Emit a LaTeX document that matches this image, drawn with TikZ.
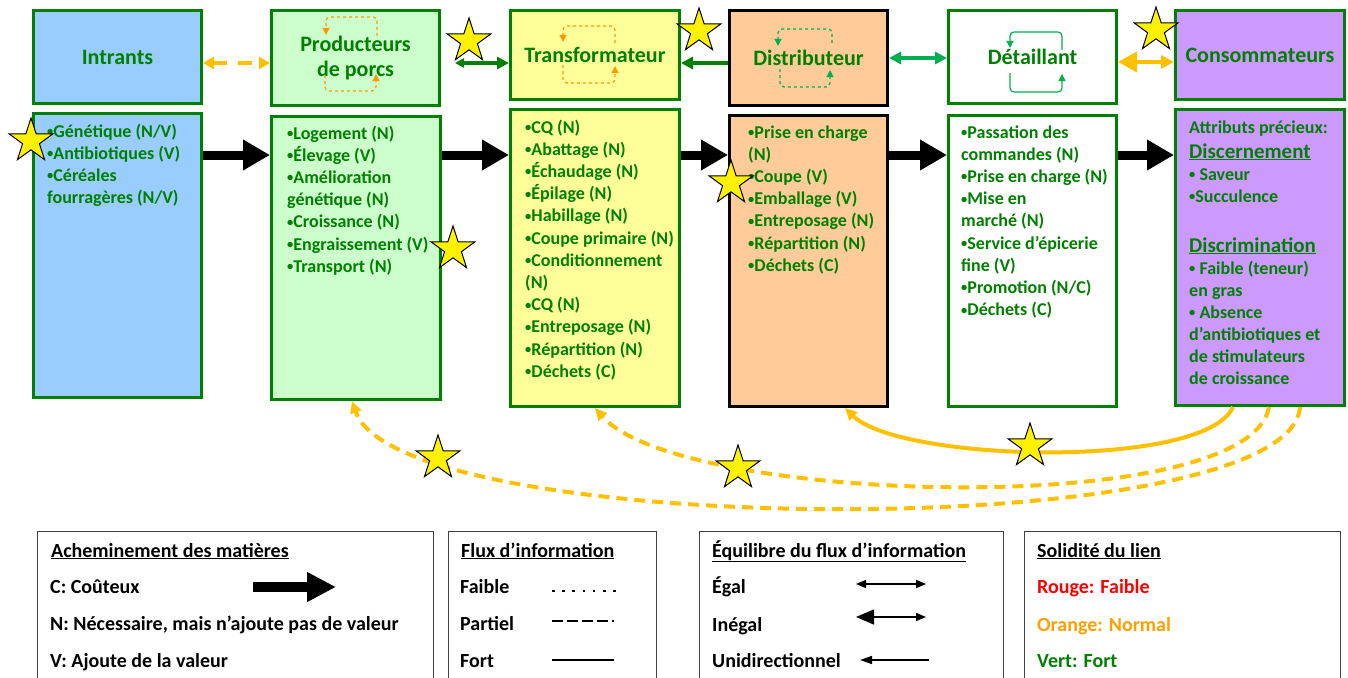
\documentclass[tikz,border=0pt]{standalone}
\usepackage{fontspec}
\setmainfont{Carlito}
\usetikzlibrary{arrows.meta,shapes.geometric,calc}
\definecolor{tg}{HTML}{008000}
\definecolor{lg}{HTML}{00B050}
\definecolor{og}{HTML}{FFC000}
\definecolor{oc}{HTML}{FF9900}
\definecolor{cblue}{HTML}{99CCFF}
\definecolor{cgreen}{HTML}{CCFFCC}
\definecolor{cyellow}{HTML}{FFFF99}
\definecolor{corange}{HTML}{FFCC99}
\definecolor{cpurple}{HTML}{CC99FF}
\definecolor{legred}{HTML}{FF0000}
\definecolor{legorange}{HTML}{FFA000}
\newcommand\bu{\raisebox{1.6pt}{\fontsize{12.5}{12.5}\selectfont•}}
\newcommand\boxlines[4]{%
  \foreach \tx [count=\k] in {#4}
    \node[body] (#1\k) at (#2, {#3+22.2*(\k-1)}) {\tx};}
\begin{document}
\begin{tikzpicture}[x=1pt,y=-1pt,
  box/.style={draw=tg, line width=3pt, inner sep=0pt, anchor=north west, text=tg,
    font=\fontsize{22}{25}\selectfont\bfseries, align=center},
  body/.style={inner sep=0pt, anchor=base west, text=tg, font=\fontsize{18}{22}\selectfont\bfseries},
  bodybig/.style={inner sep=0pt, anchor=base west, text=tg, font=\fontsize{21}{24}\selectfont\bfseries},
  legtxt/.style={inner sep=0pt, anchor=base west, text=black, font=\fontsize{20}{24}\selectfont\bfseries},
  legbox/.style={draw=black!75, line width=1.3pt, anchor=north west, inner sep=0pt},
  starn/.style={star, star points=5, star point ratio=2.6, minimum size=46pt, inner sep=0pt,
    fill=yellow, draw=black, line width=1pt},
  bigarr/.style={line width=9pt, black, -{Triangle[length=27pt,width=29pt]}},
  cyc/.style={line width=1.2pt, rounded corners=4pt, -{Triangle[length=7pt,width=7pt]}},
  ocurve/.style={og, line width=4pt, -{Triangle[length=12pt,width=11pt]}},
  odcurve/.style={og, line width=4pt, dash pattern=on 11pt off 7pt, -{Triangle[length=12pt,width=11pt]}},
]
\useasboundingbox (0,0) rectangle (1348,677);
\clip (0,0) rectangle (1348,677);
\fill[white] (0,0) rectangle (1348,677);

% ---- top boxes
\node[box, fill=cblue, minimum width=168pt, minimum height=93pt] (i1) at (32,9) {Intrants};
\node[box, fill=cgreen, minimum width=168pt, minimum height=95pt] (p1) at (270,9) {Producteurs\\de porcs};
\node[box, fill=cyellow, minimum width=169pt, minimum height=89pt] (t1) at (509,9) {Transformateur};
\node[box, draw=black, fill=corange, minimum width=158pt, minimum height=95pt] (d1) at (728,9) {Distributeur};
\node[box, fill=white, minimum width=168pt, minimum height=93pt] (r1) at (947,9) {Détaillant};
\node[box, fill=cpurple, minimum width=169pt, minimum height=89pt] (c1) at (1174,9) {Consommateurs};

% ---- bottom boxes
\node[box, fill=cblue, minimum width=168pt, minimum height=284pt] (i2) at (32,112) {};
\node[box, fill=cgreen, minimum width=169pt, minimum height=283pt] (p2) at (270,115) {};
\node[box, fill=cyellow, minimum width=169pt, minimum height=297pt] (t2) at (509,108) {};
\node[box, draw=black, fill=corange, minimum width=158pt, minimum height=291pt] (d2) at (728,114) {};
\node[box, fill=white, minimum width=168pt, minimum height=291pt] (r2) at (947,114) {};
\node[box, fill=cpurple, minimum width=169pt, minimum height=296pt] (c2) at (1174,108) {};

% ---- small cycle arrows in headers
\draw[cyc, oc, dashed] (377,36) -- (377,17) -- (326,17) -- (326,35);
\draw[cyc, oc, dashed] (325,75) -- (325,91) -- (376,91) -- (376,74);
\draw[cyc, oc, dashed] (615,43) -- (615,26) -- (563,26) -- (563,42);
\draw[cyc, oc, dashed] (563,65) -- (563,83) -- (615,83) -- (615,66);
\draw[cyc, lg, dashed] (832,43) -- (832,29) -- (778,29) -- (778,46);
\draw[cyc, lg, dashed] (780,69) -- (780,87) -- (830,87) -- (830,70);
\draw[cyc, lg] (1062,50) -- (1062,32) -- (1010,32) -- (1010,48);
\draw[cyc, lg] (1010,73) -- (1010,92) -- (1062,92) -- (1062,74);

% ---- top connectors
\draw[og, line width=4pt, dash pattern=on 14pt off 11pt,
  {Triangle[length=11pt,width=12pt]}-{Triangle[length=11pt,width=12pt]}]
  (i1.east |- 0,63) -- (p1.west |- 0,63);
\draw[tg, line width=3pt, {Triangle[length=9pt,width=9pt]}-{Triangle[length=12pt,width=12pt]}]
  ([xshift=14pt]p1.east |- 0,63) -- (t1.west |- 0,63);
\draw[tg, line width=3pt, -{Triangle[length=12pt,width=12pt]}]
  (d1.west |- 0,63) -- (t1.east |- 0,63);
\draw[lg, line width=3.5pt, {Triangle[length=12pt,width=12pt]}-{Triangle[length=12pt,width=12pt]}]
  (d1.east |- 0,58) -- (r1.west |- 0,58);
\draw[og, line width=4pt, {Triangle[length=19pt,width=20pt]}-{Triangle[length=13pt,width=13pt]}]
  (r1.east |- 0,62) -- (c1.west |- 0,62);

% ---- material flow arrows
\draw[bigarr] (i2.east |- 0,155) -- (p2.west |- 0,155);
\draw[bigarr] (p2.east |- 0,155) -- (t2.west |- 0,155);
\draw[bigarr] (t2.east |- 0,155) -- (d2.west |- 0,155);
\draw[bigarr] (d2.east |- 0,155) -- (r2.west |- 0,155);
\draw[bigarr] (r2.east |- 0,155) -- (c2.west |- 0,155);

% ---- box contents
\boxlines{ia}{47}{137}{{\bu Génétique (N/V)},{\bu Antibiotiques (V)},{\bu Céréales},{fourragères (N/V)}}
\boxlines{pa}{287}{139}{{\bu Logement (N)},{\bu Élevage (V)},{\bu Amélioration},{génétique (N)},{\bu Croissance (N)},{\bu Engraissement (V)},{\bu Transport (N)}}
\boxlines{ta}{525}{133}{{\bu CQ (N)},{\bu Abattage (N)},{\bu Échaudage (N)},{\bu Épilage (N)},{\bu Habillage (N)},{\bu Coupe primaire (N)},{\bu Conditionnement},{(N)},{\bu CQ (N)},{\bu Entreposage (N)},{\bu Répartition (N)},{\bu Déchets (C)}}
\boxlines{da}{748}{138}{{\bu Prise en charge},{(N)},{\bu Coupe (V)},{\bu Emballage (V)},{\bu Entreposage (N)},{\bu Répartition (N)},{\bu Déchets (C)}}
\boxlines{ra}{961}{138}{{\bu Passation des},{commandes (N)},{\bu Prise en charge (N)},{\bu Mise en},{marché (N)},{\bu Service d’épicerie},{fine (V)},{\bu Promotion (N/C)},{\bu Déchets (C)}}
\node[body] (ca1) at (1189,133) {Attributs précieux:};
\node[bodybig] (ca2) at (1189,158) {\underline{Discernement}};
\node[body] (ca3) at (1189,180) {\bu\ Saveur};
\node[body] (ca4) at (1189,202) {\bu Succulence};
\node[bodybig] (ca5) at (1189,252) {\underline{Discrimination}};
\node[body] (ca6) at (1189,274) {\bu\ Faible (teneur)};
\node[body] (ca7) at (1189,296) {en gras};
\node[body] (ca8) at (1189,318) {\bu\ Absence};
\node[body] (ca9) at (1189,340) {d’antibiotiques et};
\node[body] (ca10) at (1189,362) {de stimulateurs};
\node[body] (ca11) at (1189,384) {de croissance};

% ---- feedback curves
\draw[ocurve] ([xshift=59pt]c2.south west) .. controls (1205,470) and (900,462) .. ([xshift=117pt]d2.south west);
\draw[odcurve] ([xshift=95pt]c2.south west) .. controls (1250,520) and (680,505) .. ([xshift=86pt]t2.south west);
\draw[odcurve] ([xshift=126pt]c2.south west) .. controls (1290,545) and (400,540) .. ([xshift=82pt]p2.south west);

% ---- stars
\node[starn] (st1) at (469,41) {};
\node[starn] (st2) at (699,31) {};
\node[starn] (st3) at (1156,30) {};
\node[starn] (st4) at (31,141) {};
\node[starn] (st5) at (453,249) {};
\node[starn] (st6) at (731,183) {};
\node[starn] (st7) at (438,458) {};
\node[starn] (st8) at (738,468) {};
\node[starn] (st9) at (1030,446) {};

% ---- legend
\node[legbox, minimum width=396pt, minimum height=170pt] (L1) at (37,531) {};
\node[legbox, minimum width=208pt, minimum height=170pt] (L2) at (448,531) {};
\node[legbox, minimum width=304pt, minimum height=170pt] (L3) at (699,531) {};
\node[legbox, minimum width=316pt, minimum height=170pt] (L4) at (1024,531) {};

\node[legtxt] (l1a) at (51,557) {\underline{Acheminement des matières}};
\node[legtxt] (l1b) at (50,593) {C: Coûteux};
\node[legtxt] (l1c) at (50,630) {N: Nécessaire, mais n’ajoute pas de valeur};
\node[legtxt] (l1d) at (50,667) {V: Ajoute de la valeur};
\coordinate (la1) at (253,587);
\coordinate (la2) at (336,587);
\draw[line width=10pt, black, -{Triangle[length=29pt,width=28pt]}] (la1) -- (la2);

\node[legtxt] (l2a) at (461,557) {\underline{Flux d’information}};
\node[legtxt] (l2b) at (460,593) {Faible};
\node[legtxt] (l2c) at (460,630) {Partiel};
\node[legtxt] (l2d) at (460,667) {Fort};
\coordinate (lf1) at (552,591); \coordinate (lf2) at (616,591);
\coordinate (lp1) at (552,621); \coordinate (lp2) at (614,621);
\coordinate (ls1) at (552,660); \coordinate (ls2) at (614,660);
\draw[line width=2.6pt, dash pattern=on 2.6pt off 7.6pt] (lf1) -- (lf2);
\draw[line width=1.2pt, dash pattern=on 11pt off 4pt] (lp1) -- (lp2);
\draw[line width=2.2pt] (ls1) -- (ls2);

\node[legtxt] (l3a) at (712,557) {\underline{Équilibre du flux d’information}};
\node[legtxt] (l3b) at (712,593) {Égal};
\node[legtxt] (l3c) at (712,631) {Inégal};
\node[legtxt] (l3d) at (712,667) {Unidirectionnel};
\coordinate (le1) at (856,584); \coordinate (le2) at (926,584);
\coordinate (li1) at (856,617); \coordinate (li2) at (926,617);
\coordinate (lu1) at (929,660); \coordinate (lu2) at (860,660);
\draw[line width=1.5pt, {Triangle[length=10pt,width=8pt]}-{Triangle[length=10pt,width=8pt]}] (le1) -- (le2);
\draw[line width=1.5pt, {Triangle[length=18pt,width=15pt]}-{Triangle[length=10pt,width=8pt]}] (li1) -- (li2);
\draw[line width=1.5pt, -{Triangle[length=12pt,width=8pt]}] (lu1) -- (lu2);

\node[legtxt] (l4a) at (1037,557) {\underline{Solidité du lien}};
\node[legtxt, text=legred] (l4b) at (1037,593) {Rouge: Faible};
\node[legtxt, text=legorange] (l4c) at (1037,631) {Orange: Normal};
\node[legtxt, text=tg] (l4d) at (1037,667) {Vert: Fort};
\end{tikzpicture}
\end{document}
